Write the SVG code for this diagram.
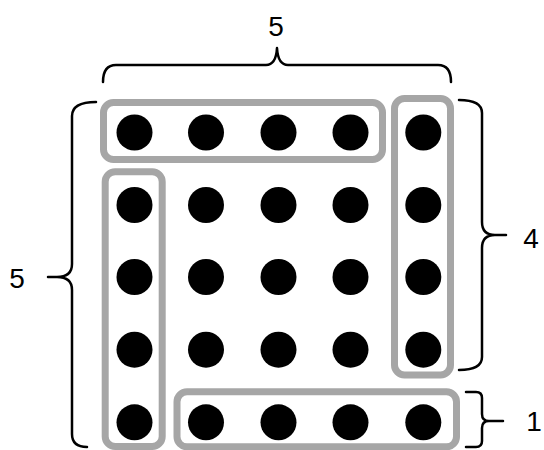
<svg xmlns="http://www.w3.org/2000/svg" width="544" height="450" viewBox="0 0 544 450">
<style>
.grp{fill:none;stroke:#a6a6a6;stroke-width:7}
.dot{fill:#000}
.brace{fill:none;stroke:#000;stroke-width:2.5;stroke-linecap:round;stroke-linejoin:round}
.lbl{font-family:"Liberation Sans",Arial,sans-serif;font-size:28px;fill:#000;text-anchor:middle}
</style>
<rect width="544" height="450" fill="#fff"/>
<g id="top-row">
<rect class="grp" x="103.5" y="102.5" width="279" height="57" rx="10"/>
<circle class="dot" cx="134.5" cy="132.5" r="18"/>
<circle class="dot" cx="206" cy="132.5" r="18"/>
<circle class="dot" cx="278.5" cy="132.5" r="18"/>
<circle class="dot" cx="350.5" cy="132.5" r="18"/>
</g>
<g id="right-column">
<rect class="grp" x="394.5" y="98.5" width="56" height="276.5" rx="10"/>
<circle class="dot" cx="423.3" cy="132.5" r="18"/>
<circle class="dot" cx="423.3" cy="205" r="18"/>
<circle class="dot" cx="423.3" cy="277" r="18"/>
<circle class="dot" cx="423.3" cy="349.7" r="18"/>
</g>
<g id="left-column">
<rect class="grp" x="105.2" y="171.7" width="57" height="274.8" rx="10"/>
<circle class="dot" cx="134.5" cy="205" r="18"/>
<circle class="dot" cx="134.5" cy="277" r="18"/>
<circle class="dot" cx="134.5" cy="349.7" r="18"/>
<circle class="dot" cx="134.5" cy="422.3" r="18"/>
</g>
<g id="bottom-row">
<rect class="grp" x="177" y="391.8" width="279.5" height="55" rx="10"/>
<circle class="dot" cx="206" cy="422.3" r="18"/>
<circle class="dot" cx="278.5" cy="422.3" r="18"/>
<circle class="dot" cx="350.5" cy="422.3" r="18"/>
<circle class="dot" cx="423.3" cy="422.3" r="18"/>
</g>
<g id="inner-dots">
<circle class="dot" cx="206" cy="205" r="18"/>
<circle class="dot" cx="278.5" cy="205" r="18"/>
<circle class="dot" cx="350.5" cy="205" r="18"/>
<circle class="dot" cx="206" cy="277" r="18"/>
<circle class="dot" cx="278.5" cy="277" r="18"/>
<circle class="dot" cx="350.5" cy="277" r="18"/>
<circle class="dot" cx="206" cy="349.7" r="18"/>
<circle class="dot" cx="278.5" cy="349.7" r="18"/>
<circle class="dot" cx="350.5" cy="349.7" r="18"/>
</g>
<g id="braces">
<path class="brace" d="M103,82 Q103,65 116,65 L266,65 Q276,65 277,48 Q278,65 288,65 L438,65 Q451,65 451,82"/>
<path class="brace" d="M96,102 Q72,102 72,116 L72,264 Q72,277 57,277 L48,277 L57,277 Q72,277 72,290 L72,434 Q72,447 87,447"/>
<path class="brace" d="M459,100 Q482,100 482,113 L482,222 Q482,235 495,235 L506,235 L495,235 Q482,235 482,248 L482,357 Q482,370 459,370"/>
<path class="brace" d="M466,392 L476,392 Q482,392 482,398 L482,414 Q482,421 489,421 L503,421 L489,421 Q482,421 482,428 L482,441 Q482,447 476,447 L466,447"/>
</g>
<g id="labels">
<text class="lbl" x="276" y="36">5</text>
<text class="lbl" x="17" y="288">5</text>
<text class="lbl" x="531" y="248">4</text>
<text class="lbl" x="534" y="431">1</text>
</g>
</svg>
